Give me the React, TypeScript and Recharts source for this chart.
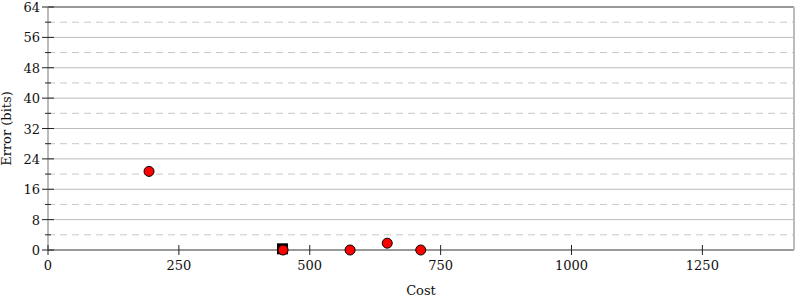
import React from 'react';
import { ScatterChart, Scatter, XAxis, YAxis, ReferenceLine, Label } from 'recharts';

const circlePoints = [
  { cost: 193, error: 20.7 },
  { cost: 449, error: 0 },
  { cost: 577, error: 0 },
  { cost: 648, error: 1.8 },
  { cost: 712, error: 0 },
];
const squarePoints = [{ cost: 448, error: 0.3 }];

const xTicks = [0, 250, 500, 750, 1000, 1250];
const yTicks = [0, 4, 8, 12, 16, 20, 24, 28, 32, 36, 40, 44, 48, 52, 56, 60, 64];
const majorGrid = [8, 16, 24, 32, 40, 48, 56];
const minorGrid = [4, 12, 20, 28, 36, 44, 52, 60];

const FONT = 'DejaVu Serif';

const LeftTick = (props: any) => {
  const { x, y, payload } = props;
  const major = payload.value % 8 === 0;
  const len = major ? 6 : 3;
  return (
    <g>
      <line x1={x - len} x2={x + len} y1={y} y2={y} stroke="#222" strokeWidth={1} />
      {major && (
        <text x={x - 8} y={y + 5} textAnchor="end" fontFamily={FONT} fontSize={13} fill="#111">
          {payload.value}
        </text>
      )}
    </g>
  );
};

const RightTick = (props: any) => {
  const { x, y, payload } = props;
  const major = payload.value % 8 === 0;
  const len = major ? 6 : 3;
  return <line x1={x - len} x2={x + len} y1={y} y2={y} stroke="#222" strokeWidth={1} />;
};

const BottomTick = (props: any) => {
  const { x, y, payload } = props;
  return (
    <g>
      <line x1={x} x2={x} y1={y - 5} y2={y + 5} stroke="#222" strokeWidth={1} />
      <text x={x} y={y + 20} textAnchor="middle" fontFamily={FONT} fontSize={13} fill="#111">
        {payload.value}
      </text>
    </g>
  );
};

const Square = (props: any) => {
  const { cx, cy } = props;
  return <rect x={cx - 5} y={cy - 5} width={10} height={10} fill="#000" stroke="#000" />;
};

const Dot = (props: any) => {
  const { cx, cy } = props;
  return <circle cx={cx} cy={cy} r={5} fill="#ff0000" stroke="#000" strokeWidth={1} />;
};

export default function App() {
  return (
    <div style={{ position: 'absolute', left: 0, top: 0, background: '#fff' }}>
      <ScatterChart width={800} height={300} margin={{ top: 7, right: 0, bottom: 5, left: 0 }}>
        <XAxis
          type="number"
          dataKey="cost"
          domain={[0, 1425]}
          ticks={xTicks}
          tick={<BottomTick />}
          tickSize={0}
          tickMargin={0}
          axisLine={{ stroke: '#999', strokeWidth: 2 }}
          height={45}
          allowDataOverflow
        >
          <Label value="Cost" position="insideBottom" offset={0} style={{ fontFamily: FONT, fontSize: 13, fill: '#111' }} />
        </XAxis>
        <YAxis
          yAxisId="l"
          type="number"
          dataKey="error"
          domain={[0, 64]}
          ticks={yTicks}
          interval={0}
          tick={<LeftTick />}
          tickSize={0}
          tickMargin={0}
          axisLine={{ stroke: '#bbb', strokeWidth: 2 }}
          width={48}
        >
          <Label
            value="Error (bits)"
            angle={-90}
            position="insideLeft"
            offset={6}
            style={{ fontFamily: FONT, fontSize: 13, fill: '#111', textAnchor: 'middle' }}
          />
        </YAxis>
        <YAxis
          yAxisId="r"
          orientation="right"
          type="number"
          domain={[0, 64]}
          ticks={yTicks}
          interval={0}
          tick={<RightTick />}
          tickSize={0}
          tickMargin={0}
          axisLine={{ stroke: '#bbb', strokeWidth: 2 }}
          width={6}
        />
        {minorGrid.map((v) => (
          <ReferenceLine key={'m' + v} yAxisId="l" y={v} stroke="#c8c8c8" strokeDasharray="7 5" />
        ))}
        {majorGrid.map((v) => (
          <ReferenceLine key={'M' + v} yAxisId="l" y={v} stroke="#bbb" />
        ))}
        <ReferenceLine yAxisId="l" y={64} stroke="#999" strokeWidth={2} />
        <Scatter yAxisId="l" data={squarePoints} shape={<Square />} isAnimationActive={false} />
        <Scatter yAxisId="l" data={circlePoints} shape={<Dot />} isAnimationActive={false} />
      </ScatterChart>
    </div>
  );
}
